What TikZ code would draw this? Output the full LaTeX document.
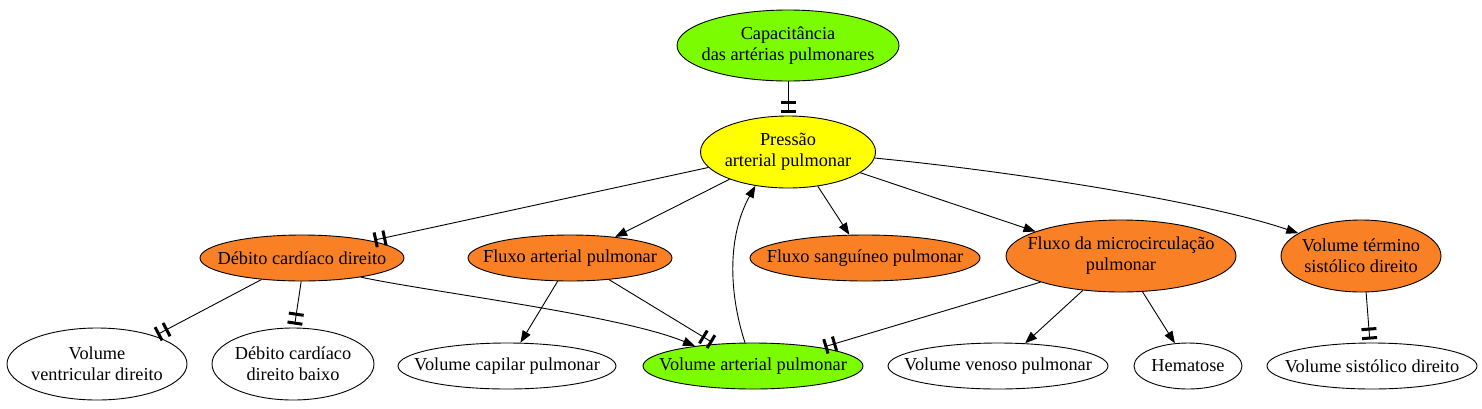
\documentclass[tikz,border=0pt]{standalone}
\usepackage{fontspec}
\setmainfont{Liberation Serif}
\usetikzlibrary{shapes.geometric,arrows.meta}
\definecolor{gvgreen}{RGB}{124,252,0}
\definecolor{gvyellow}{RGB}{255,255,0}
\definecolor{gvorange}{RGB}{250,128,38}
\tikzset{
  el/.style={ellipse, draw=black, line width=0.9pt, inner sep=0pt},
  txt/.style={font=\fontsize{18.3}{21}\selectfont, align=center, inner sep=0pt},
  edge/.style={draw=black, line width=0.9pt},
  arr/.style={edge, -{Triangle[length=12pt,width=9pt]}},
  tt/.style={edge, shorten >=3pt, -{Bar[width=15pt,line width=3pt,sep=6pt]Bar[width=15pt,line width=3pt,sep=0pt]}},
}
\begin{document}
\begin{tikzpicture}[x=1pt,y=-1pt]
\useasboundingbox[fill=white] (0,0) rectangle (1482,408);
% nodes
\node[el, fill=gvgreen, minimum width=222pt, minimum height=71pt,
  label={[txt]center:{Capacitância\\das artérias pulmonares}}] (cap) at (788,45.5) {};
\node[el, fill=gvyellow, minimum width=175pt, minimum height=72pt,
  label={[txt]center:{Pressão\\arterial pulmonar}}] (pap) at (788,152) {};
\node[el, fill=gvorange, minimum width=204pt, minimum height=46pt,
  label={[txt]center:{Débito cardíaco direito}}] (dcd) at (302,258) {};
\node[el, fill=gvorange, minimum width=204pt, minimum height=46pt,
  label={[txt]center:{Fluxo arterial pulmonar}}] (fap) at (570,258) {};
\node[el, fill=gvorange, minimum width=230pt, minimum height=46pt,
  label={[txt]center:{Fluxo sanguíneo pulmonar}}] (fsp) at (865,258) {};
\node[el, fill=gvorange, minimum width=230pt, minimum height=72pt,
  label={[txt]center:{Fluxo da microcirculação\\pulmonar}}] (fmp) at (1121,256) {};
\node[el, fill=gvorange, minimum width=160pt, minimum height=72pt,
  label={[txt]center:{Volume término\\sistólico direito}}] (vts) at (1361,256) {};
\node[el, fill=white, minimum width=180pt, minimum height=72pt,
  label={[txt]center:{Volume\\ventricular direito}}] (vvd) at (97,364) {};
\node[el, fill=white, minimum width=162pt, minimum height=72pt,
  label={[txt]center:{Débito cardíaco\\direito baixo}}] (dcb) at (293,364) {};
\node[el, fill=white, minimum width=218pt, minimum height=46pt,
  label={[txt]center:{Volume capilar pulmonar}}] (vcp) at (507,366) {};
\node[el, fill=gvgreen, minimum width=220pt, minimum height=46pt,
  label={[txt]center:{Volume arterial pulmonar}}] (vap) at (753,366) {};
\node[el, fill=white, minimum width=220pt, minimum height=46pt,
  label={[txt]center:{Volume venoso pulmonar}}] (vvp) at (998,366) {};
\node[el, fill=white, minimum width=108pt, minimum height=46pt,
  label={[txt]center:{Hematose}}] (hem) at (1188,366) {};
\node[el, fill=white, minimum width=210pt, minimum height=46pt,
  label={[txt]center:{Volume sistólico direito}}] (vsd) at (1372,366) {};
% edges
\draw[tt] (cap.south) -- (pap.north);
\draw[tt] (pap.191) -- (dcd.14);
\draw[arr] (pap.205) -- (fap.25);
\draw[arr] (pap.311) -- (fsp.124);
\draw[arr] (pap.344) -- (fmp.164);
\draw[arr] (pap.356) .. controls (1000,170) and (1200,200) .. (vts.160);
\draw[arr] (vap.109) .. controls (728,290) and (728,235) .. (pap.226);
\draw[tt] (dcd.208) -- (vvd.26);
\draw[tt] (dcd.268) -- (dcb.88);
\draw[arr] (dcd.342) .. controls (430,292) and (620,315) .. (vap.161);
\draw[arr] (fap.242) -- (vcp.60);
\draw[tt] (fap.331) -- (vap.150);
\draw[tt] (fmp.198) -- (vap.15);
\draw[arr] (fmp.222) -- (vvp.40);
\draw[arr] (fmp.301) -- (hem.120);
\draw[tt] (vts.278) -- (vsd.95);
\end{tikzpicture}
\end{document}
